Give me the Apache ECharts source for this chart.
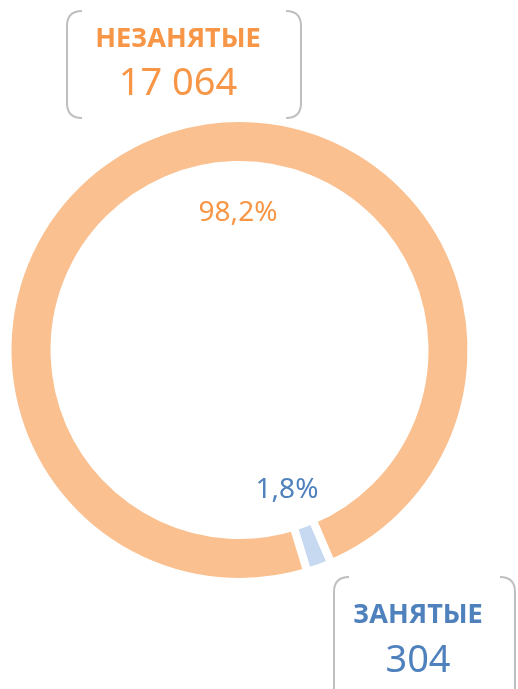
<!DOCTYPE html>
<html>
<head>
<meta charset="utf-8">
<script src="https://cdn.jsdelivr.net/npm/echarts@6/dist/echarts.min.js"></script>
<style>
  html, body { margin: 0; padding: 0; background: #fff; }
  #chart { width: 518px; height: 689px; }
</style>
</head>
<body>
<div id="chart"></div>
<script>
// data
const names = ["ЗАНЯТЫЕ", "НЕЗАНЯТЫЕ"];
const values = [304, 17064];
const ringColors = ["#C6D9F1", "#FAC090"];
const textColors = ["#4F81BD", "#F79646"];

const total = values.reduce((a, b) => a + b, 0);
const pct = (v) => (v / total * 100).toFixed(1).replace(".", ",") + "%";
const num = (v) => String(v).replace(/\B(?=(\d{3})+(?!\d))/g, " ");

const FONT = "Noto Sans";
const stroke = { stroke: "#BFBFBF", lineWidth: 2, fill: null };

const chart = echarts.init(document.getElementById("chart"));

// one side of a bracket box: vertical line with rounded ends (dir = +1 opens right, -1 opens left)
function side(x, top, bottom, dir, r) {
  const out = [
    { type: "line", shape: { x1: x, y1: top + r, x2: x, y2: bottom == null ? 720 : bottom - r }, style: stroke },
    { type: "bezierCurve", shape: { x1: x, y1: top + r, cpx1: x, cpy1: top, x2: x + dir * r, y2: top }, style: stroke },
  ];
  if (bottom != null) {
    out.push({ type: "bezierCurve", shape: { x1: x, y1: bottom - r, cpx1: x, cpy1: bottom, x2: x + dir * r, y2: bottom }, style: stroke });
  }
  return out;
}

function txt(s, x, y, color, font) {
  return {
    type: "text", x: x, y: y,
    style: { text: s, fill: color, font: font, textAlign: "center", textVerticalAlign: "middle" },
  };
}

chart.setOption({
  backgroundColor: "#fff",
  animation: false,
  series: [
    {
      type: "pie",
      center: [239.5, 350],
      radius: [185, 232],
      startAngle: 293.3,
      clockwise: true,
      silent: true,
      label: { show: false },
      labelLine: { show: false },
      itemStyle: { borderColor: "#fff", borderWidth: 8 },
      data: values.map((v, i) => ({
        name: names[i], value: v, itemStyle: { color: ringColors[i] },
      })),
    },
  ],
  graphic: [
    // top callout (НЕЗАНЯТЫЕ)
    ...side(67, 11, 118, 1, 15),
    ...side(301, 11, 118, -1, 15),
    txt(names[1], 178, 39, textColors[1], `bold 27px "${FONT}"`),
    txt(num(values[1]), 178, 84, textColors[1], `38px "${FONT}"`),
    // bottom callout (ЗАНЯТЫЕ)
    ...side(334, 577, null, 1, 15),
    ...side(515, 577, null, -1, 15),
    txt(names[0], 418, 615, textColors[0], `bold 27px "${FONT}"`),
    txt(num(values[0]), 418, 661, textColors[0], `38px "${FONT}"`),
    // percent labels
    txt(pct(values[1]), 238, 213, textColors[1], `28px "${FONT}"`),
    txt(pct(values[0]), 287, 490, textColors[0], `28px "${FONT}"`),
  ],
});
</script>
</body>
</html>
